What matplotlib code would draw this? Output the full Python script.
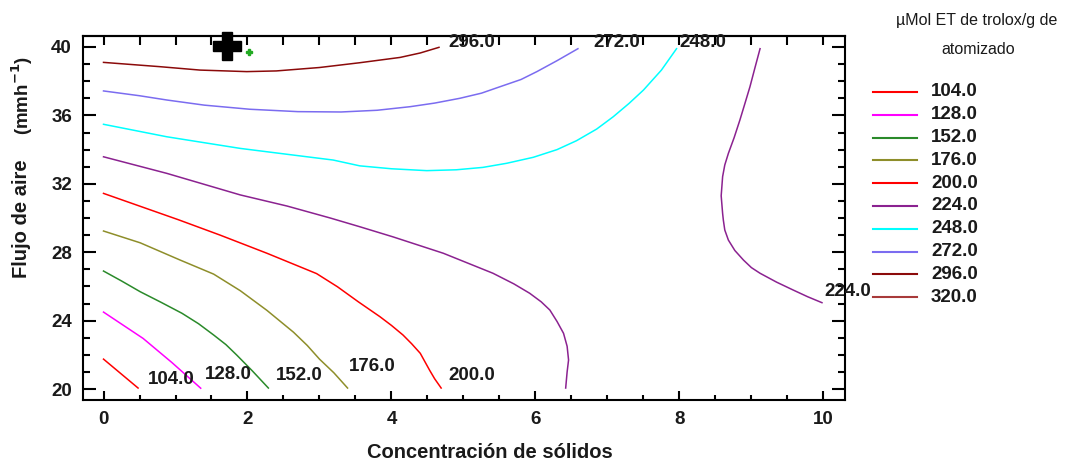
import matplotlib.pyplot as plt
from matplotlib.lines import Line2D

plt.rcParams['font.family'] = ['Liberation Sans', 'DejaVu Sans']

W, H = 1069, 462

# contour levels and colours (legend)
levels = [104.0, 128.0, 152.0, 176.0, 200.0, 224.0, 248.0, 272.0, 296.0, 320.0]
colors = ['#ff0000', '#ff00ff', '#2a8a2a', '#8e8e2a', '#ff0000',
          '#8b2290', '#00ffff', '#7b6cf0', '#8b0a0a', '#a83a3a']

# contour lines (x = solids, y = air flow)
c104_x = [0.0, 0.48]
c104_y = [21.75, 20.06]
c128_x = [0.0, 0.25, 0.55, 0.95, 1.35]
c128_y = [24.5, 23.8, 22.96, 21.55, 20.05]
c152_x = [0.0, 0.25, 0.51, 0.8, 1.09, 1.32, 1.53, 1.7, 1.85, 2.07, 2.29]
c152_y = [26.9, 26.32, 25.69, 25.07, 24.43, 23.82, 23.16, 22.6, 21.99, 21.05, 20.06]
c176_x = [0.0, 0.51, 1.06, 1.53, 1.9, 2.27, 2.64, 2.83, 3.0, 3.2, 3.39]
c176_y = [29.24, 28.55, 27.55, 26.72, 25.75, 24.6, 23.32, 22.55, 21.75, 20.95, 20.06]
c200_x = [0.0, 0.5, 1.04, 1.62, 2.27, 2.96, 3.25, 3.54, 3.84, 4.0, 4.16, 4.28, 4.4, 4.53, 4.6, 4.69]
c200_y = [31.44, 30.7, 29.9, 29.0, 27.94, 26.75, 25.98, 25.1, 24.23, 23.72, 23.16, 22.65, 22.09, 21.1, 20.6, 20.06]
c224a_x = [0.0, 0.88, 1.9, 2.55, 3.15, 3.56, 4.02, 4.72, 5.41, 5.7, 5.92, 6.08, 6.2, 6.3, 6.39, 6.44, 6.46, 6.44, 6.42]
c224a_y = [33.58, 32.61, 31.35, 30.7, 30.0, 29.49, 28.9, 27.94, 26.77, 26.15, 25.6, 25.1, 24.62, 23.95, 23.26, 22.5, 21.7, 21.0, 20.06]
c224b_x = [9.12, 9.05, 8.98, 8.91, 8.84, 8.76, 8.68, 8.63, 8.6, 8.58, 8.6, 8.61, 8.63, 8.68, 8.77, 8.89, 9.0, 9.12, 9.35, 9.58, 9.78, 9.98]
c224b_y = [39.9, 38.8, 37.68, 36.7, 35.73, 34.7, 33.78, 33.1, 32.42, 31.3, 30.27, 29.88, 29.3, 28.71, 28.1, 27.54, 27.1, 26.77, 26.25, 25.79, 25.4, 25.05]
c248_x = [0.0, 0.88, 1.9, 2.6, 3.19, 3.56, 4.0, 4.49, 4.9, 5.27, 5.6, 5.97, 6.3, 6.57, 6.85, 7.08, 7.3, 7.5, 7.75, 7.96]
c248_y = [35.48, 34.75, 34.07, 33.7, 33.39, 33.05, 32.88, 32.77, 32.82, 32.96, 33.2, 33.55, 34.0, 34.52, 35.2, 35.92, 36.7, 37.48, 38.65, 39.9]
c272_x = [0.0, 0.5, 0.88, 1.4, 2.03, 2.7, 3.3, 3.8, 4.26, 4.6, 4.95, 5.25, 5.51, 5.8, 6.02, 6.3, 6.59]
c272_y = [37.43, 37.15, 36.9, 36.6, 36.36, 36.22, 36.2, 36.3, 36.51, 36.72, 37.0, 37.3, 37.68, 38.1, 38.56, 39.2, 39.9]
c296_x = [0.0, 0.78, 1.34, 1.99, 2.4, 3.0, 3.56, 4.12, 4.4, 4.66]
c296_y = [39.1, 38.85, 38.65, 38.56, 38.6, 38.8, 39.08, 39.39, 39.65, 39.98]

label_text = ['104.0', '128.0', '152.0', '176.0', '200.0', '224.0', '296.0', '272.0', '248.0']
label_x = [0.94, 1.73, 2.72, 3.73, 5.12, 10.34, 5.12, 7.13, 8.33]
label_y = [20.53, 20.88, 20.82, 21.29, 20.82, 25.73, 40.29, 40.29, 40.29]

# optimum markers
opt_x, opt_y = [1.715], [40.03]
pt_x, pt_y = [2.02], [39.68]

fig = plt.figure(figsize=(W / 100, H / 100), dpi=100)
ax = fig.add_axes([83 / W, 1 - 400 / H, (845 - 83) / W, (400 - 35.7) / H])

curves = [(c104_x, c104_y, 0), (c128_x, c128_y, 1), (c152_x, c152_y, 2),
          (c176_x, c176_y, 3), (c200_x, c200_y, 4), (c224a_x, c224a_y, 5),
          (c224b_x, c224b_y, 5), (c248_x, c248_y, 6), (c272_x, c272_y, 7),
          (c296_x, c296_y, 8)]
for cx, cy, ci in curves:
    ax.plot(cx, cy, color=colors[ci], lw=1.1)

for t, lx, ly in zip(label_text, label_x, label_y):
    ax.text(lx, ly, t, ha='center', va='center', fontsize=13.5,
            fontweight='bold', color='#1a1a1a', clip_on=False)

ax.plot(opt_x, opt_y, marker='P', ms=20, color='black', ls='none', clip_on=False)
ax.plot(pt_x, pt_y, marker='P', ms=4, color='#22aa22', ls='none', clip_on=False)

ax.set_xlim(-0.285, 10.30)
ax.set_ylim(19.36, 40.66)
ax.set_xticks([0, 2, 4, 6, 8, 10])
ax.set_xticks([i * 0.5 for i in range(21)], minor=True)
ax.set_yticks([20, 24, 28, 32, 36, 40])
ax.set_yticks(list(range(20, 41)), minor=True)

for side in ax.spines.values():
    side.set_linewidth(1.5)
ax.tick_params(axis='both', which='both', direction='in', width=1.5,
               labelsize=13.5, labelcolor='#1a1a1a')
ax.tick_params(axis='x', which='major', length=6.5, pad=8, top=False)
ax.tick_params(axis='x', which='minor', length=3.6, top=False)
ax.tick_params(axis='y', which='major', length=9.4, pad=8, right=True)
ax.tick_params(axis='y', which='minor', length=4.7, right=True)
for lab in ax.get_xticklabels() + ax.get_yticklabels():
    lab.set_fontweight('bold')

top = ax.secondary_xaxis('top')
top.set_xticks([i * 0.5 for i in range(21)])
top.tick_params(direction='in', length=6.5, width=1.5, labeltop=False)
top.spines['top'].set_linewidth(1.5)

fig.text(490 / W, 1 - 452 / H, 'Concentración de sólidos', ha='center', va='center',
         fontsize=14.5, fontweight='bold', color='#1a1a1a')
fig.text(22 / W, 1 - 219 / H, 'Flujo de aire', ha='center', va='center',
         rotation=90, fontsize=14.5, fontweight='bold', color='#1a1a1a')
fig.text(22 / W, 1 - 95 / H, '(mmh$^{\\mathbf{-1}}$)', ha='center', va='center',
         rotation=90, fontsize=13.5, fontweight='bold', color='#1a1a1a')

# legend drawn by hand
fig.text(977 / W, 1 - 20 / H, 'µMol ET de trolox/g de', ha='center', va='center',
         fontsize=11.5, color='#1a1a1a')
fig.text(978 / W, 1 - 50 / H, 'atomizado', ha='center', va='center',
         fontsize=11.5, color='#1a1a1a')
for i, (lev, col) in enumerate(zip(levels, colors)):
    yy = 1 - (92 + 22.8 * i) / H
    fig.add_artist(Line2D([873 / W, 917 / W], [yy, yy], color=col, lw=1.5,
                          transform=fig.transFigure))
    fig.text(931 / W, yy, f'{lev:.1f}', ha='left', va='center', fontsize=13.5,
             fontweight='bold', color='#1a1a1a')

fig.savefig('out.png', dpi=100)
